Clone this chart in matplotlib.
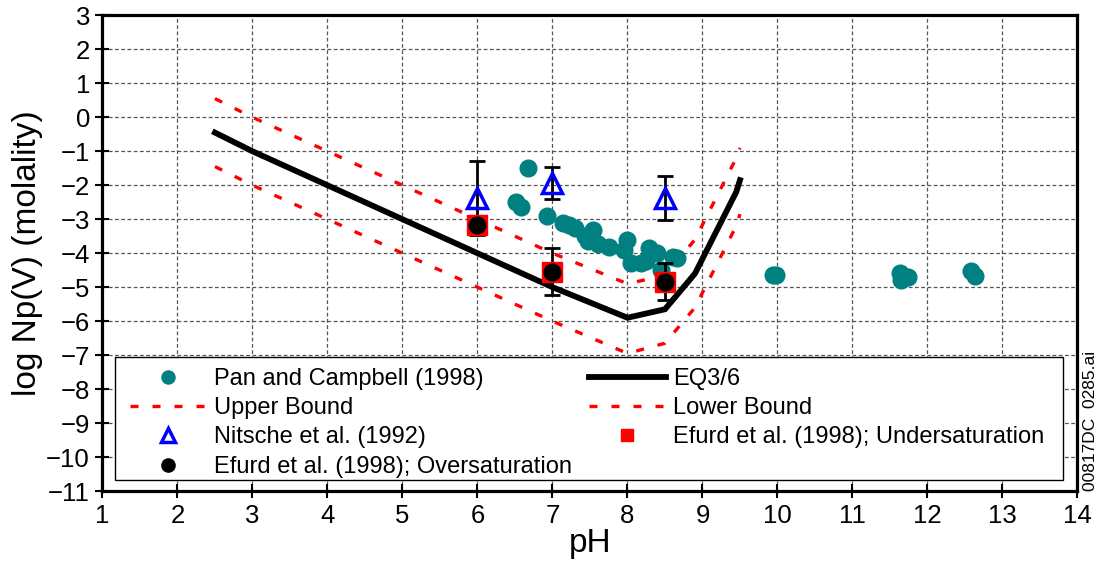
import matplotlib
matplotlib.use("Agg")
import matplotlib.pyplot as plt
from matplotlib.patches import Rectangle
from matplotlib.lines import Line2D

plt.rcParams['font.family'] = ['Liberation Sans', 'DejaVu Sans']

# EQ3/6 model curve and its bounds
eq_ph = [2.5, 3.0, 4.5, 7.0, 8.0, 8.5, 8.9, 9.45, 9.5]
eq_y = [-0.45, -1.0, -2.5, -5.0, -5.9, -5.65, -4.6, -2.2, -1.85]
upper_ph = [2.5, 3.0, 4.5, 7.0, 8.0, 8.5, 8.9, 9.45, 9.5]
upper_y = [0.55, 0.0, -1.5, -4.0, -4.9, -4.65, -3.6, -1.2, -0.9]
lower_ph = [2.5, 3.0, 4.5, 7.0, 8.0, 8.5, 8.9, 9.45, 9.5]
lower_y = [-1.45, -2.0, -3.5, -6.0, -6.95, -6.65, -5.6, -3.2, -2.85]

# Pan and Campbell (1998)
pan_ph = [6.67, 6.52, 6.58, 6.93, 7.14, 7.22, 7.30, 7.43, 7.54, 7.47, 7.61,
          7.76, 8.00, 7.96, 8.05, 8.18, 8.29, 8.40, 8.25, 8.45, 8.61, 8.66,
          9.94, 9.98, 11.63, 11.65, 11.74, 12.58, 12.63]
pan_y = [-1.50, -2.48, -2.63, -2.90, -3.10, -3.18, -3.26, -3.48, -3.32, -3.64, -3.72,
         -3.81, -3.61, -3.91, -4.28, -4.30, -3.84, -3.98, -4.22, -4.48, -4.10, -4.15,
         -4.64, -4.64, -4.57, -4.80, -4.69, -4.52, -4.67]

# Nitsche et al. (1992)
nit_ph = [6.0, 7.0, 8.5]
nit_y = [-2.38, -1.93, -2.38]
nit_err = [1.08, 0.48, 0.64]

# Efurd et al. (1998)
efo_ph = [6.0, 7.0, 8.5]
efo_y = [-3.17, -4.54, -4.84]
efo_err = [0.2, 0.68, 0.54]
efu_ph = [6.0, 7.0, 8.5]
efu_y = [-3.17, -4.54, -4.84]

x_ticks = list(range(1, 15))
y_ticks = list(range(-11, 4))

teal = '#008080'
red = '#ff0000'
blue = '#0000ff'

fig = plt.figure(figsize=(10.97, 5.67), dpi=100)
ax = fig.add_axes([0.0934, 0.134, 0.8888, 0.8389])

dash = (0, (2.4, 4.2))
ax.plot(upper_ph, upper_y, color=red, lw=2.4, linestyle=dash, zorder=2)
ax.plot(lower_ph, lower_y, color=red, lw=2.4, linestyle=dash, zorder=2)
ax.plot(eq_ph, eq_y, color='black', lw=4.2, solid_joinstyle='miter', zorder=3)
ax.plot(pan_ph, pan_y, 'o', color=teal, ms=12, mec=teal, zorder=4)

ax.errorbar(nit_ph, nit_y, yerr=nit_err, fmt='none', ecolor='black', elinewidth=2,
            capsize=6, capthick=2, zorder=5)
ax.errorbar(efo_ph, efo_y, yerr=efo_err, fmt='none', ecolor='black', elinewidth=2,
            capsize=6, capthick=2, zorder=5)
ax.plot(nit_ph, nit_y, '^', ms=15, mfc='none', mec=blue, mew=2.5, zorder=6)
ax.plot(efu_ph, efu_y, 's', ms=15, color=red, zorder=6)
ax.plot(efo_ph, efo_y, 'o', ms=12, color='black', zorder=7)

ax.set_xlim(1, 14)
ax.set_ylim(-11, 3)
ax.set_xticks(x_ticks)
ax.set_yticks(y_ticks)
ax.set_yticklabels([str(v).replace('-', '\u2212') for v in y_ticks])
ax.tick_params(direction='inout', length=10, width=1.5, labelsize=18.5, pad=4)
ax.grid(True, color='#555555', lw=0.9, linestyle=(0, (3, 2)))
ax.set_axisbelow(True)
for s in ax.spines.values():
    s.set_linewidth(2.3)

ax.set_xlabel('pH', fontsize=24, labelpad=0)
ax.set_ylabel('log Np(V) (molality)', fontsize=24, labelpad=2)

# legend entries
handles = [
    Line2D([], [], ls='none', marker='o', ms=9.4, color=teal, label='Pan and Campbell (1998)'),
    Line2D([], [], color=red, lw=2.4, linestyle=dash, label='Upper Bound'),
    Line2D([], [], ls='none', marker='^', ms=9.5, mfc='none', mec=blue, mew=2.5,
           label='Nitsche et al. (1992)'),
    Line2D([], [], ls='none', marker='o', ms=9.5, color='black',
           label='Efurd et al. (1998); Oversaturation'),
    Line2D([], [], color='black', lw=4.2, label='EQ3/6'),
    Line2D([], [], color=red, lw=2.4, linestyle=dash, label='Lower Bound'),
    Line2D([], [], ls='none', marker='s', ms=8.7, color=red,
           label='Efurd et al. (1998); Undersaturation'),
]

ax.add_patch(Rectangle((0.0128, 0.0231), 0.9728, 0.2582, transform=ax.transAxes,
                       facecolor='white', edgecolor='black', lw=1.0, zorder=8))
leg = ax.legend(handles=handles, ncol=2, loc='upper left', bbox_to_anchor=(0.0282, 0.259),
                frameon=False, fontsize=17, handlelength=3.26, handletextpad=0.3,
                columnspacing=0.72, labelspacing=0.31, borderpad=0, borderaxespad=0)
leg.set_zorder(9)

fig.text(0.9945, 0.134, '00817DC  0285.ai', rotation=90, fontsize=12.5,
         ha='center', va='bottom')

fig.savefig('out.png', dpi=100)
